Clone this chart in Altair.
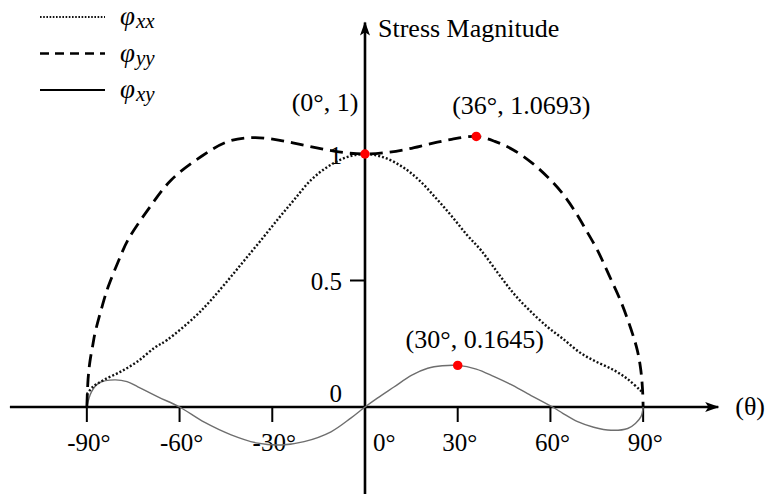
import altair as alt
import pandas as pd

# ---- curve data (angle in degrees, stress magnitude) ----
xx_theta = [-90, -88, -84.5, -79, -73.6, -68, -64, -55, -50, -44.4, -39, -33.6, -28, -23, -17.5, -12, -6, 0,
            6, 12, 17.5, 23, 28, 33, 37.5, 43, 48, 53, 59, 64, 69.8, 75, 80.5, 85, 89, 90]
xx_value = [0.05, 0.08, 0.107, 0.14, 0.18, 0.235, 0.265, 0.357, 0.42, 0.50, 0.58, 0.66, 0.745, 0.818, 0.897, 0.95, 0.987, 1.0,
            0.987, 0.95, 0.897, 0.825, 0.755, 0.68, 0.62, 0.53, 0.45, 0.385, 0.317, 0.27, 0.213, 0.178, 0.146, 0.11, 0.067, 0.055]

yy_theta = [-90, -89.6, -89, -88, -87.4, -85, -83.1, -80, -76.7, -70.2, -62.7, -53, -44.4, -36, -28, -21, -14, -7, 0,
            7, 14, 21, 28, 36, 42, 48, 54, 59, 63.5, 67.6, 71.5, 75.2, 79, 82.7, 86, 88.1, 89.2, 89.8, 90]
yy_value = [0.0, 0.11, 0.18, 0.25, 0.29, 0.40, 0.475, 0.57, 0.66, 0.78, 0.897, 0.99, 1.049, 1.065, 1.055, 1.038, 1.02, 1.006, 1.0,
            1.006, 1.02, 1.04, 1.058, 1.0693, 1.05, 1.016, 0.965, 0.91, 0.85, 0.78, 0.70, 0.62, 0.52, 0.42, 0.31, 0.225, 0.15, 0.07, 0.0]

xy_theta = [-90, -88.5, -86, -81, -77, -73.5, -67, -60, -52, -43.3, -34.7, -27, -19.7, -11, -4.6, 0,
            4, 9.5, 15, 20.3, 25, 30, 36, 41.8, 47, 52.6, 60.7, 64, 68.8, 74, 79.6, 85, 87.5, 89.3, 90]
xy_value = [0.0, 0.06, 0.095, 0.107, 0.1, 0.08, 0.04, 0.0, -0.06, -0.11, -0.143, -0.15, -0.137, -0.098, -0.044, 0.0,
            0.035, 0.08, 0.125, 0.153, 0.163, 0.1645, 0.15, 0.12, 0.09, 0.053, 0.0, -0.025, -0.058, -0.08, -0.092, -0.085, -0.065, -0.038, 0.0]

# highlighted extreme points
peak_theta = [0, 36, 30]
peak_value = [1, 1.0693, 0.1645]

# axis ticks and labels
x_ticks = [-90, -60, -30, 30, 60, 90]
x_tick_labels = ["-90°", "-60°", "-30°", "30°", "60°", "90°"]
y_ticks = [0.5, 1]
y_tick_labels = ["0.5", "1"]

# axis extents (data units)
x_axis_start, x_axis_end = -114.9, 114.3
y_axis_start, y_axis_end = -0.35, 1.52

FONT = "Liberation Serif, Times New Roman, serif"
W, H = 768, 494

xs = alt.Scale(domain=[-118.1, 130.4], nice=False, zero=False)
ys = alt.Scale(domain=[-0.3439, 1.6087], nice=False, zero=False)


def X(field="t"):
    return alt.X(field, type="quantitative", scale=xs, axis=None)


def Y(field="v"):
    return alt.Y(field, type="quantitative", scale=ys, axis=None)


def curve(theta, value):
    return pd.DataFrame({"t": theta, "v": value})


layers = []

# coordinate axes with arrowheads
x_axis_df = pd.DataFrame({"t": [x_axis_start], "t2": [x_axis_end], "v": [0.0]})
layers.append(alt.Chart(x_axis_df).mark_rule(color="black", strokeWidth=2.6).encode(
    x=X("t"), x2="t2", y=Y("v")))
y_axis_df = pd.DataFrame({"t": [0.0], "v": [y_axis_start], "v2": [y_axis_end]})
layers.append(alt.Chart(y_axis_df).mark_rule(color="black", strokeWidth=2.6).encode(
    x=X("t"), y=Y("v"), y2="v2"))

arrow_up = "M0,-1 L0.62,0.75 L0,0.35 L-0.62,0.75 Z"
arrow_right = "M1,0 L-0.75,0.62 L-0.35,0 L-0.75,-0.62 Z"
layers.append(alt.Chart(pd.DataFrame({"t": [0.0], "v": [y_axis_end]})).mark_point(
    shape=arrow_up, filled=True, color="black", opacity=1, size=260, yOffset=7).encode(x=X("t"), y=Y("v")))
layers.append(alt.Chart(pd.DataFrame({"t": [x_axis_end], "v": [0.0]})).mark_point(
    shape=arrow_right, filled=True, color="black", opacity=1, size=260, xOffset=-7).encode(x=X("t"), y=Y("v")))

# ticks
xt_df = pd.DataFrame({"t": x_ticks, "label": x_tick_labels, "v": [0.0] * len(x_ticks)})
layers.append(alt.Chart(xt_df).mark_rule(color="black", strokeWidth=2, y2Offset=15).encode(
    x=X("t"), y=Y("v"), y2="v"))
yt_df = pd.DataFrame({"v": y_ticks, "label": y_tick_labels, "t": [0.0] * len(y_ticks)})
layers.append(alt.Chart(yt_df).mark_rule(color="black", strokeWidth=2, x2Offset=-15).encode(
    x=X("t"), x2="t", y=Y("v")))

# tick labels
layers.append(alt.Chart(xt_df).mark_text(font=FONT, fontSize=25, align="center", baseline="alphabetic",
                                         dy=44, dx=2).encode(x=X("t"), y=Y("v"), text="label"))
layers.append(alt.Chart(pd.DataFrame({"t": [0.0], "v": [0.0], "label": ["0°"]})).mark_text(
    font=FONT, fontSize=25, align="left", baseline="alphabetic", dx=8, dy=44).encode(x=X("t"), y=Y("v"), text="label"))
layers.append(alt.Chart(yt_df).mark_text(font=FONT, fontSize=25, align="right", baseline="alphabetic",
                                         dx=-23, dy=10).encode(x=X("t"), y=Y("v"), text="label"))
layers.append(alt.Chart(pd.DataFrame({"t": [0.0], "v": [0.0], "label": ["0"]})).mark_text(
    font=FONT, fontSize=25, align="right", baseline="alphabetic", dx=-23, dy=-5).encode(x=X("t"), y=Y("v"), text="label"))

# axis titles
layers.append(alt.Chart(pd.DataFrame({"t": [0.0], "v": [y_axis_end], "label": ["Stress Magnitude"]})).mark_text(
    font=FONT, fontSize=26, align="left", baseline="alphabetic", dx=13, dy=15).encode(x=X("t"), y=Y("v"), text="label"))
layers.append(alt.Chart(pd.DataFrame({"t": [x_axis_end], "v": [0.0], "label": ["(θ)"]})).mark_text(
    font=FONT, fontSize=26, align="left", baseline="middle", dx=17).encode(x=X("t"), y=Y("v"), text="label"))

# stress curves
layers.append(alt.Chart(curve(xy_theta, xy_value)).mark_line(
    color="#6e6e6e", strokeWidth=1.4, interpolate="catmull-rom").encode(x=X("t"), y=Y("v"), order="t"))
layers.append(alt.Chart(curve(xx_theta, xx_value)).mark_line(
    color="#111111", strokeWidth=2.4, strokeDash=[2, 2], interpolate="catmull-rom").encode(x=X("t"), y=Y("v"), order="t"))
layers.append(alt.Chart(curve(yy_theta, yy_value)).mark_line(
    color="black", strokeWidth=2.8, strokeDash=[13, 7], interpolate="catmull-rom").encode(x=X("t"), y=Y("v"), order="t"))

# highlighted points with their coordinates
peak_df = pd.DataFrame({
    "t": peak_theta,
    "v": peak_value,
    "label": [f"({t}°, {v})" for t, v in zip(peak_theta, peak_value)],
})
layers.append(alt.Chart(peak_df).mark_circle(color="#ff0000", opacity=1, size=90).encode(x=X("t"), y=Y("v")))
label_offsets = [(-40, -43), (45, -22), (17, -17)]
for i, (dx, dy) in enumerate(label_offsets):
    layers.append(alt.Chart(peak_df.iloc[[i]]).mark_text(
        font=FONT, fontSize=26, align="center", baseline="alphabetic", dx=dx, dy=dy).encode(
        x=X("t"), y=Y("v"), text="label"))

# legend
legend_items = [("xx", [1.6, 1.6], 2.2, "#111111"), ("yy", [9, 6], 2.4, "black"), ("xy", [1, 0], 2.2, "black")]
for i, (sub, dash, sw, col) in enumerate(legend_items):
    row_y = 17 + i * 36.5
    ldf = pd.DataFrame({"sym": ["φ"], "sub": [sub]})
    layers.append(alt.Chart(ldf).mark_rule(color=col, strokeWidth=sw, strokeDash=dash).encode(
        x=alt.value(40), x2=alt.value(105), y=alt.value(row_y)))
    layers.append(alt.Chart(ldf).mark_text(font=FONT, fontStyle="italic", fontSize=27, align="left",
                                           baseline="alphabetic").encode(
        x=alt.value(120), y=alt.value(row_y + 8), text="sym"))
    layers.append(alt.Chart(ldf).mark_text(font=FONT, fontStyle="italic", fontSize=21, align="left",
                                           baseline="alphabetic").encode(
        x=alt.value(136), y=alt.value(row_y + 11), text="sub"))

chart = alt.layer(*layers).properties(
    width=W, height=H, padding=0, autosize=alt.AutoSizeParams(type="none"), background="white"
).configure_view(strokeWidth=0)

chart.save("out.html", embed_options={"renderer": "svg", "actions": False})
